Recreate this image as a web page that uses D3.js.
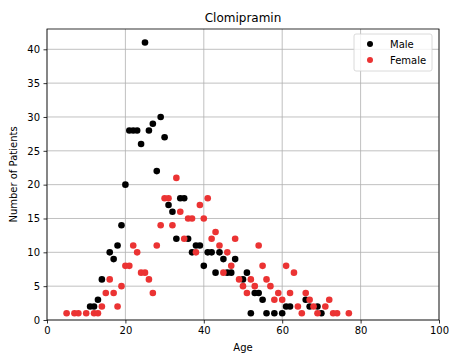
<!DOCTYPE html>
<html><head><meta charset="utf-8">
<script src="https://cdn.jsdelivr.net/npm/d3@7"></script>
<style>body{margin:0;background:#fff}svg{display:block;font-family:"DejaVu Sans",sans-serif}</style>
</head><body>
<svg id="c" width="449" height="356"></svg>
<script>
const title = "Clomipramin";
const xLabel = "Age";
const yLabel = "Number of Patients";
const xTicks = [0, 20, 40, 60, 80, 100];
const yTicks = [0, 5, 10, 15, 20, 25, 30, 35, 40];
const maleAge = [11,12,13,14,16,17,18,19,20,21,22,23,24,25,26,27,28,29,30,31,32,33,34,35,36,37,38,39,40,41,42,43,44,45,46,47,48,50,51,52,53,54,55,56,58,60,61,62,66,67,69,70];
const maleCount = [2,2,3,6,10,9,11,14,20,28,28,28,26,41,28,29,22,30,27,17,16,12,18,18,12,10,11,11,8,10,10,7,10,9,7,7,9,6,7,1,4,4,3,1,1,1,2,2,3,2,2,1];
const femaleAge = [5,7,8,10,12,13,14,15,16,17,18,19,20,21,22,23,24,25,26,27,28,29,30,31,32,33,34,35,36,37,38,39,40,41,42,43,44,45,46,47,48,49,50,51,52,53,54,55,56,57,58,59,60,61,62,63,64,65,66,67,68,69,71,72,73,74,77];
const femaleCount = [1,1,1,1,1,1,2,4,6,4,2,5,8,8,11,10,7,7,6,4,11,14,18,18,14,21,16,12,15,15,10,17,15,18,12,13,11,7,10,8,12,6,5,4,6,5,11,8,6,5,3,4,3,8,4,7,2,1,4,3,2,1,2,3,1,1,1];
const seriesNames = ["Male", "Female"];
const colors = ["#000000", "#eb3333"];

const svg = d3.select("#c");
const m = {l: 47, t: 29, r: 439, b: 320};
const x = d3.scaleLinear().domain([0, 100]).range([m.l, m.r]);
const y = d3.scaleLinear().domain([0, 43]).range([m.b, m.t]);

// grid
svg.append("g").selectAll("line").data(xTicks).join("line")
  .attr("x1", d => x(d)).attr("x2", d => x(d)).attr("y1", m.t).attr("y2", m.b)
  .attr("stroke", "#b0b0b0").attr("stroke-width", 0.8);
svg.append("g").selectAll("line").data(yTicks).join("line")
  .attr("x1", m.l).attr("x2", m.r).attr("y1", d => y(d)).attr("y2", d => y(d))
  .attr("stroke", "#b0b0b0").attr("stroke-width", 0.8);

// axes
const xAxis = svg.append("g").attr("transform", `translate(0,${m.b})`)
  .call(d3.axisBottom(x).tickValues(xTicks).tickSize(3.5).tickPadding(3.5));
const yAxis = svg.append("g").attr("transform", `translate(${m.l},0)`)
  .call(d3.axisLeft(y).tickValues(yTicks).tickSize(3.5).tickPadding(3.5));
[xAxis, yAxis].forEach(a => {
  a.select(".domain").remove();
  a.selectAll("text").attr("font-size", 10).attr("fill", "#000").attr("font-family", "DejaVu Sans");
  a.selectAll("line").attr("stroke", "#000").attr("stroke-width", 0.8);
});

// points
const series = [
  maleAge.map((a, i) => ({a, c: maleCount[i]})),
  femaleAge.map((a, i) => ({a, c: femaleCount[i]}))
];
series.forEach((s, k) => {
  svg.append("g").selectAll("circle").data(s).join("circle")
    .attr("cx", d => x(d.a)).attr("cy", d => y(d.c)).attr("r", 3.3)
    .attr("fill", colors[k]);
});

// frame
svg.append("rect").attr("x", m.l).attr("y", m.t).attr("width", m.r - m.l).attr("height", m.b - m.t)
  .attr("fill", "none").attr("stroke", "#000").attr("stroke-width", 0.8);

// title & labels
svg.append("text").attr("x", (m.l + m.r) / 2).attr("y", 22).attr("text-anchor", "middle")
  .attr("font-size", 12).text(title);
svg.append("text").attr("x", (m.l + m.r) / 2).attr("y", 351).attr("text-anchor", "middle")
  .attr("font-size", 10).text(xLabel);
svg.append("text").attr("transform", `translate(17,${(m.t + m.b) / 2}) rotate(-90)`).attr("text-anchor", "middle")
  .attr("font-size", 10).text(yLabel);

// legend
const lg = svg.append("g").attr("transform", "translate(354,34)");
lg.append("rect").attr("width", 78).attr("height", 37).attr("rx", 2)
  .attr("fill", "#fff").attr("fill-opacity", 0.8).attr("stroke", "#d0d0d0").attr("stroke-width", 0.8);
seriesNames.forEach((n, i) => {
  lg.append("circle").attr("cx", 16).attr("cy", 10 + i * 16).attr("r", 3).attr("fill", colors[i]);
  lg.append("text").attr("x", 36).attr("y", 10 + i * 16).attr("dy", "0.35em").attr("font-size", 10).text(n);
});
</script>
</body></html>
